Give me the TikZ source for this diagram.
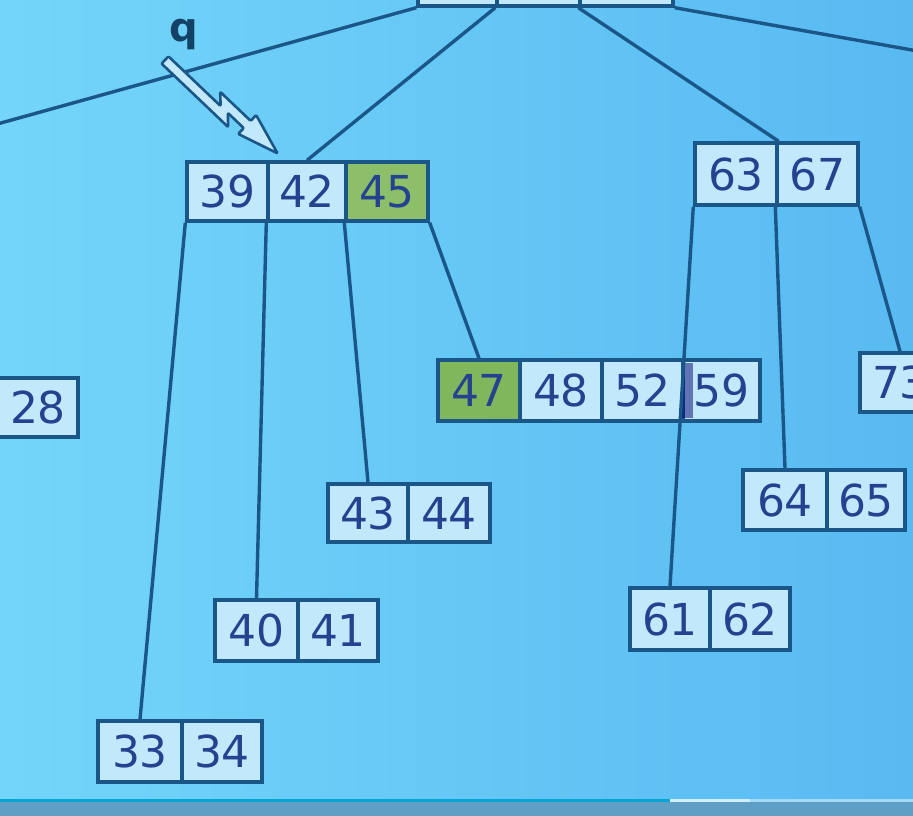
\documentclass[tikz,border=0pt]{standalone}
\usepackage{fontspec}
\newfontfamily\dvs{DejaVu Sans}
\definecolor{bgL}{HTML}{74D5FA}
\definecolor{bgR}{HTML}{58BAF1}
\definecolor{cellfill}{HTML}{C2E9FB}
\definecolor{greenA}{HTML}{8DBF6A}
\definecolor{greenB}{HTML}{80B65C}
\definecolor{linec}{HTML}{1B5688}
\definecolor{txt}{HTML}{24428F}
\definecolor{barline}{HTML}{0AA3D6}
\definecolor{barbg}{HTML}{5F9FC6}
\tikzset{
  cell/.style={draw=linec, line width=3.4pt, fill=cellfill, text=txt, inner sep=0pt,
    font=\dvs\fontsize{44}{44}\selectfont},
  hot/.style={fill=greenA},
  hotb/.style={fill=greenB},
  plain/.style={},
  link/.style={draw=linec, line width=3.4pt},
  bolt/.style={draw=linec, line width=2.6pt, fill=cellfill, line join=round},
}
\newcommand\mycell[7]{%
  \node[cell,#7,minimum width={(#3-#2)*1pt},minimum height={(#5-#4)*1pt}] (#1) at ({(#2+#3)/2},{(#4+#5)/2}) {#6};}
\begin{document}
\begin{tikzpicture}[x=1pt,y=-1pt]
\useasboundingbox (0,0) rectangle (913,816);
\clip (0,0) rectangle (913,816);
\shade[left color=bgL, right color=bgR] (0,0) rectangle (913,816);
% bottom bar
\fill[barbg] (0,801) rectangle (913,816);
\fill[barline] (0,799) rectangle (670,802);
\fill[white!75!bgR] (670,799) rectangle (750,802);
\fill[white!45!bgR] (750,799) rectangle (913,802);
% root (mostly off the top)
\mycell{r1}{418}{497}{-60}{6}{}{plain}
\mycell{r2}{497}{580}{-60}{6}{}{plain}
\mycell{r3}{580}{673}{-60}{6}{}{plain}
\coordinate (offL) at (-100,151);
\coordinate (offR) at (1013,68);
% level 2
\mycell{c39}{187}{268}{162}{221}{39}{plain}
\mycell{c42}{268}{346}{162}{221}{42}{plain}
\mycell{c45}{346}{428}{162}{221}{45}{hot}
\mycell{c63}{695}{777}{143}{205}{63}{plain}
\mycell{c67}{777}{858}{143}{205}{67}{plain}
% leaves
\mycell{c28}{-2}{78}{378}{437}{28}{plain}
\mycell{c47}{438}{520}{360}{421}{47}{hotb}
\mycell{c48}{520}{602}{360}{421}{48}{plain}
\mycell{c52}{602}{683}{360}{421}{52}{plain}
\mycell{c59}{683}{760}{360}{421}{59}{plain}
\mycell{c73}{860}{940}{353}{412}{73}{plain}
\mycell{c43}{328}{408}{484}{542}{43}{plain}
\mycell{c44}{408}{490}{484}{542}{44}{plain}
\mycell{c64}{743}{827}{470}{530}{64}{plain}
\mycell{c65}{827}{905}{470}{530}{65}{plain}
\mycell{c61}{630}{710}{588}{650}{61}{plain}
\mycell{c62}{710}{790}{588}{650}{62}{plain}
\mycell{c40}{215}{298}{600}{661}{40}{plain}
\mycell{c41}{298}{378}{600}{661}{41}{plain}
\mycell{c33}{98}{182}{721}{782}{33}{plain}
\mycell{c34}{182}{262}{721}{782}{34}{plain}
% dark smear on 59
\fill[blue!45!black, opacity=0.5] (682,363) rectangle (693,418);
% connectors
\draw[link] (r1.south west) -- (offL);
\draw[link] (r2.south west) -- (c42.north);
\draw[link] (r3.south west) -- (c63.north east);
\draw[link] (r3.south east) -- (offR);
\draw[link] (c39.south west) -- (c33.north);
\draw[link] (c42.south west) -- (c40.north);
\draw[link] (c45.south west) -- (c43.north);
\draw[link] (c45.south east) -- (c47.north);
\draw[link] (c63.south west) -- (c61.north);
\draw[link] (c67.south west) -- (c64.north);
\draw[link] (c67.south east) -- (c73.north);
% pointer q
\node[text=linec!75!black, font=\dvs\bfseries\fontsize{40}{40}\selectfont, inner sep=0pt] (q) at (184,34) {q};
\begin{scope}[shift={(165,60)}, rotate=-43.6]
  \draw[bolt, rounded corners=1pt] (0,-5) -- (72,-5) -- (62,-15) -- (104,-15) -- (104,-23)
     -- (146,-10) -- (104,3) -- (104,-5) -- (82,-5) -- (92,5) -- (0,5) -- cycle;
\end{scope}
\end{tikzpicture}
\end{document}
